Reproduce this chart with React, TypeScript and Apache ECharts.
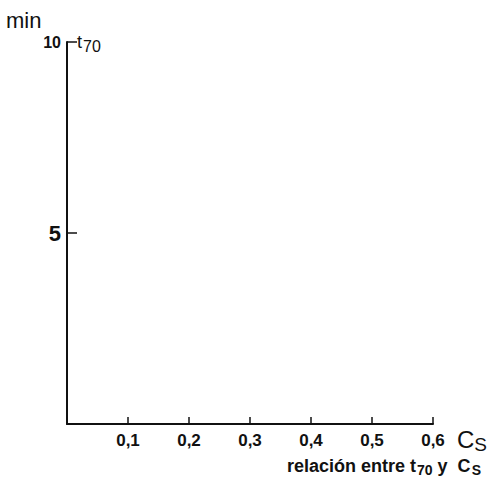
import React, { useEffect, useRef } from "react";
import * as echarts from "echarts";

const xTicks = [0, 0.1, 0.2, 0.3, 0.4, 0.5, 0.6];
const yTicks = [0, 5, 10];
const xMin = 0;
const xMax = 0.6;
const yMin = 0;
const yMax = 10;
const yUnit = "min";
const yName = ["t", "70"];
const xName = ["C", "S"];
const caption = ["relación entre t", "70", " y  C", "S"];

export default function App() {
  const ref = useRef<HTMLDivElement>(null);
  useEffect(() => {
    if (!ref.current) return;
    const chart = echarts.init(ref.current, null, { renderer: "svg" });
    const font = "'Liberation Sans', Arial, sans-serif";
    chart.setOption({
      animation: false,
      backgroundColor: "#ffffff",
      grid: { left: 67, top: 42, width: 366, height: 382, containLabel: false },
      xAxis: {
        type: "value",
        min: xMin,
        max: xMax,
        interval: 0.1,
        splitLine: { show: false },
        axisLine: { lineStyle: { color: "#111", width: 2 } },
        axisTick: { inside: true, length: 7, lineStyle: { color: "#111", width: 1.5 } },
        axisLabel: {
          margin: 8,
          color: "#111",
          fontFamily: font,
          fontWeight: "bold",
          fontSize: 17,
          formatter: (v: number) =>
            xTicks.indexOf(Math.round(v * 10) / 10) > 0 ? v.toFixed(1).replace(".", ",") : "",
        },
      },
      yAxis: {
        type: "value",
        min: yMin,
        max: yMax,
        interval: 5,
        splitLine: { show: false },
        axisLine: { lineStyle: { color: "#111", width: 2 } },
        axisTick: { inside: true, length: 10, lineStyle: { color: "#111", width: 1.5 } },
        axisLabel: {
          margin: 6,
          color: "#111",
          fontFamily: font,
          fontWeight: "bold",
          fontSize: 16,
          formatter: (v: number) =>
            v === yTicks[0] ? "" : v === yTicks[1] ? "{big|" + v + "}" : String(v),
          rich: { big: { fontSize: 22, fontWeight: "bold", fontFamily: font, color: "#111" } },
        },
      },
      graphic: [
        {
          type: "text",
          left: 6,
          top: 9,
          style: { text: yUnit, fontSize: 22, fontFamily: font, fill: "#111" },
        },
        {
          type: "text",
          left: 77,
          top: 33,
          style: {
            text: "{a|" + yName[0] + "}{b|" + yName[1] + "}",
            fill: "#111",
            rich: {
              a: { fontSize: 18, fontFamily: font, fill: "#111" },
              b: { fontSize: 16, fontFamily: font, fill: "#111", padding: [8, 0, 0, 1] },
            },
          },
        },
        {
          type: "text",
          left: 457,
          top: 427,
          style: {
            text: "{a|" + xName[0] + "}{b|" + xName[1] + "}",
            fill: "#111",
            rich: {
              a: { fontSize: 24, fontFamily: font, fill: "#111" },
              b: { fontSize: 19, fontFamily: font, fill: "#111", padding: [10, 0, 0, 0] },
            },
          },
        },
        {
          type: "text",
          left: 287,
          top: 457,
          style: {
            text:
              "{a|" + caption[0] + "}{b|" + caption[1] + "}{a|" + caption[2] + "}{b|" + caption[3] + "}",
            fill: "#111",
            rich: {
              a: { fontSize: 18, fontWeight: "bold", fontFamily: font, fill: "#111" },
              b: { fontSize: 14, fontWeight: "bold", fontFamily: font, fill: "#111", padding: [8, 0, 0, 1] },
            },
          },
        },
      ],
      series: [],
    });
    return () => chart.dispose();
  }, []);
  return (
    <div
      ref={ref}
      style={{ position: "absolute", left: 0, top: 0, width: 491, height: 487 }}
    />
  );
}
